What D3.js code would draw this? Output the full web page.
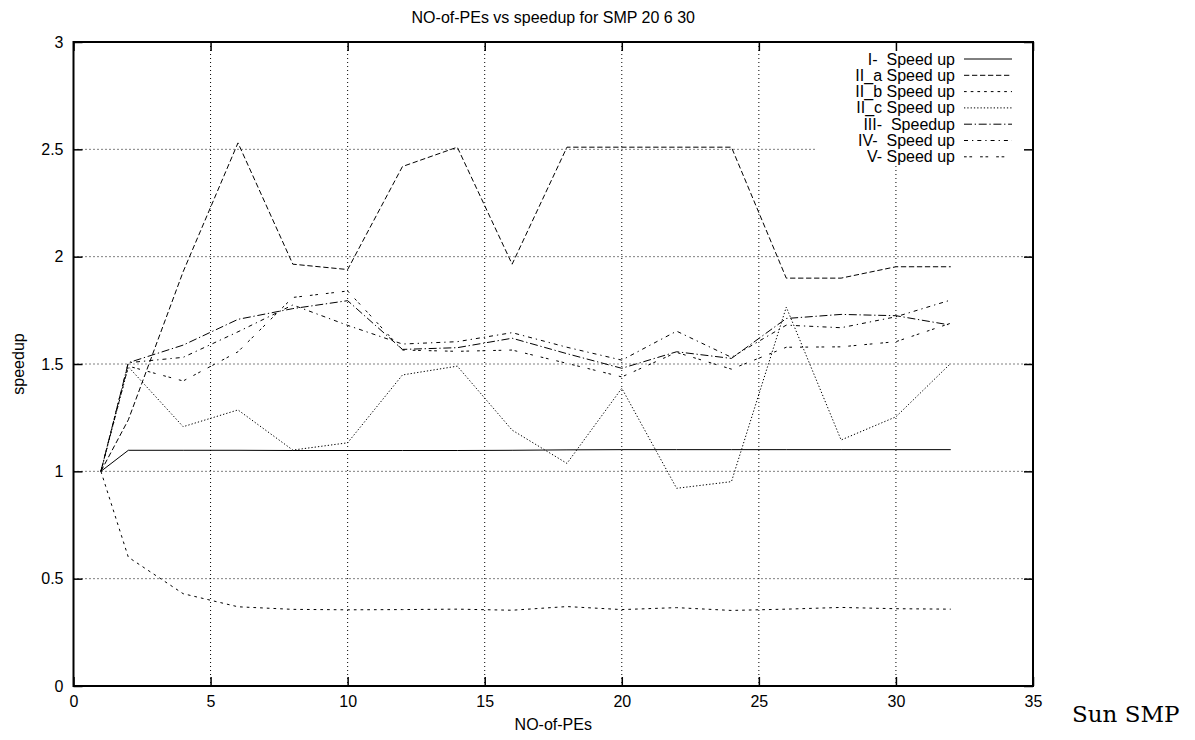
<!DOCTYPE html>
<html>
<head>
<meta charset="utf-8">
<script src="https://cdn.jsdelivr.net/npm/d3@7/dist/d3.min.js"></script>
<style>
  html, body { margin: 0; padding: 0; background: #fff; }
  svg { display: block; }
  text { font-family: "Liberation Sans", Arial, Helvetica, sans-serif; fill: #000; }
</style>
</head>
<body>
<svg id="chart" width="1195" height="740"></svg>
<script>
// ---- data ----
const numPEs = [1, 2, 4, 6, 8, 10, 12, 14, 16, 18, 20, 22, 24, 26, 28, 30, 32];
const speedupI   = [1.0, 1.098, 1.098, 1.098, 1.097, 1.097, 1.097, 1.097, 1.098, 1.100, 1.101, 1.101, 1.101, 1.101, 1.101, 1.101, 1.101];
const speedupIIa = [1.0, 1.24, 1.93, 2.53, 1.965, 1.94, 2.42, 2.51, 1.965, 2.51, 2.51, 2.51, 2.51, 1.90, 1.90, 1.953, 1.953];
const speedupIIb = [1.0, 0.60, 0.43, 0.369, 0.357, 0.355, 0.356, 0.358, 0.353, 0.370, 0.356, 0.365, 0.352, 0.358, 0.366, 0.360, 0.358];
const speedupIIc = [1.0, 1.487, 1.208, 1.286, 1.099, 1.133, 1.449, 1.49, 1.192, 1.037, 1.387, 0.921, 0.952, 1.765, 1.146, 1.254, 1.503];
const speedupIII = [1.0, 1.506, 1.588, 1.708, 1.758, 1.795, 1.568, 1.576, 1.62, 1.548, 1.48, 1.557, 1.526, 1.712, 1.731, 1.725, 1.681];
const speedupIV  = [1.0, 1.506, 1.531, 1.65, 1.775, 1.68, 1.593, 1.604, 1.646, 1.578, 1.518, 1.653, 1.531, 1.681, 1.669, 1.72, 1.798];
const speedupV   = [1.0, 1.49, 1.421, 1.557, 1.81, 1.84, 1.565, 1.559, 1.565, 1.503, 1.44, 1.554, 1.476, 1.578, 1.58, 1.604, 1.69];

const seriesNames = ["I-  Speed up", "II_a Speed up", "II_b Speed up", "II_c Speed up", "III-  Speedup", "IV-  Speed up", "V- Speed up"];
const seriesValues = [speedupI, speedupIIa, speedupIIb, speedupIIc, speedupIII, speedupIV, speedupV];

const xTicks = [0, 5, 10, 15, 20, 25, 30, 35];
const yTicks = [0, 0.5, 1, 1.5, 2, 2.5, 3];
const yTickLabels = ["0", "0.5", "1", "1.5", "2", "2.5", "3"];

const titleText = "NO-of-PEs vs speedup for SMP 20 6 30";
const xLabelText = "NO-of-PEs";
const yLabelText = "speedup";
const captionText = "Sun SMP";

// ---- styles ----
const dashes = ["", "5.3,2.7", "2.7,4", "1.3,2", "8,2.7,1.3,2.7", "4,4,1.3,4", "2.7,2.7,2.7,8"];
const fontSize = 16;

const plot = { left: 73.5, right: 1033, top: 42, bottom: 686 };
const svg = d3.select("#chart");

const x = d3.scaleLinear().domain([0, 35]).range([plot.left, plot.right]);
const y = d3.scaleLinear().domain([0, 3]).range([plot.bottom, plot.top]);

// grid
const grid = svg.append("g");
grid.selectAll("line.gx").data(xTicks.filter(d => d > 0 && d < 35)).enter().append("line")
  .attr("x1", d => x(d)).attr("x2", d => x(d))
  .attr("y1", plot.top).attr("y2", plot.bottom)
  .attr("stroke", "#000").attr("stroke-width", 1).attr("stroke-dasharray", "1,3");
grid.selectAll("line.gy").data(yTicks.filter(d => d > 0 && d < 3)).enter().append("line")
  .attr("x1", plot.left).attr("x2", plot.right)
  .attr("y1", d => y(d)).attr("y2", d => y(d))
  .attr("stroke", "#000").attr("stroke-width", 1).attr("stroke-dasharray", "1,3");

// key area blanks the grid
svg.append("rect").attr("x", 817).attr("y", plot.top + 1).attr("width", plot.right - 817 - 1).attr("height", 163 - plot.top)
  .attr("fill", "#fff");

// axes (ticks inward, mirrored)
const tickLen = 9;
const axB = d3.axisBottom(x).tickValues(xTicks).tickSize(-tickLen).tickPadding(10);
const axT = d3.axisTop(x).tickValues(xTicks).tickSize(-tickLen).tickFormat("");
const axL = d3.axisLeft(y).tickValues(yTicks).tickSize(-tickLen).tickPadding(10).tickFormat((d, i) => yTickLabels[i]);
const axR = d3.axisRight(y).tickValues(yTicks).tickSize(-tickLen).tickFormat("");

function styleAxis(g) {
  g.select(".domain").remove();
  g.selectAll(".tick line").attr("stroke", "#000").attr("stroke-width", 1.5);
  g.selectAll(".tick text").attr("font-size", fontSize).attr("font-family", "Liberation Sans, Arial, sans-serif").attr("fill", "#000");
}
svg.append("g").attr("transform", `translate(0,${plot.bottom})`).call(axB).call(styleAxis);
svg.append("g").attr("transform", `translate(0,${plot.top})`).call(axT).call(styleAxis);
svg.append("g").attr("transform", `translate(${plot.left},0)`).call(axL).call(styleAxis);
svg.append("g").attr("transform", `translate(${plot.right},0)`).call(axR).call(styleAxis);

// data lines
const line = d3.line().x((d, i) => x(numPEs[i])).y(d => y(d));
seriesValues.forEach((vals, k) => {
  svg.append("path").datum(vals)
    .attr("d", line)
    .attr("fill", "none")
    .attr("stroke", "#000")
    .attr("stroke-width", 1)
    .attr("stroke-dasharray", dashes[k] || null);
});

// border
svg.append("rect").attr("x", plot.left).attr("y", plot.top)
  .attr("width", plot.right - plot.left).attr("height", plot.bottom - plot.top)
  .attr("fill", "none").attr("stroke", "#000").attr("stroke-width", 2);

// legend
const key = svg.append("g");
seriesNames.forEach((name, k) => {
  const cy = 59 + 16.3 * k;
  key.append("text").attr("x", 955).attr("y", cy + 5.5).attr("text-anchor", "end")
    .attr("font-size", fontSize).style("white-space", "pre").text(name);
  key.append("line").attr("x1", 964).attr("x2", 1012).attr("y1", cy).attr("y2", cy)
    .attr("stroke", "#000").attr("stroke-width", 1).attr("stroke-dasharray", dashes[k] || null);
});

// titles
svg.append("text").attr("x", (plot.left + plot.right) / 2).attr("y", 23).attr("text-anchor", "middle")
  .attr("font-size", fontSize).text(titleText);
svg.append("text").attr("x", (plot.left + plot.right) / 2).attr("y", 730).attr("text-anchor", "middle")
  .attr("font-size", fontSize).text(xLabelText);
svg.append("text").attr("transform", `translate(24,${(plot.top + plot.bottom) / 2}) rotate(-90)`).attr("text-anchor", "middle")
  .attr("font-size", fontSize).text(yLabelText);
svg.append("text").attr("x", 1072).attr("y", 722).attr("font-size", 23)
  .style("font-family", "'DejaVu Serif', 'Liberation Serif', serif").text(captionText);
</script>
</body>
</html>
